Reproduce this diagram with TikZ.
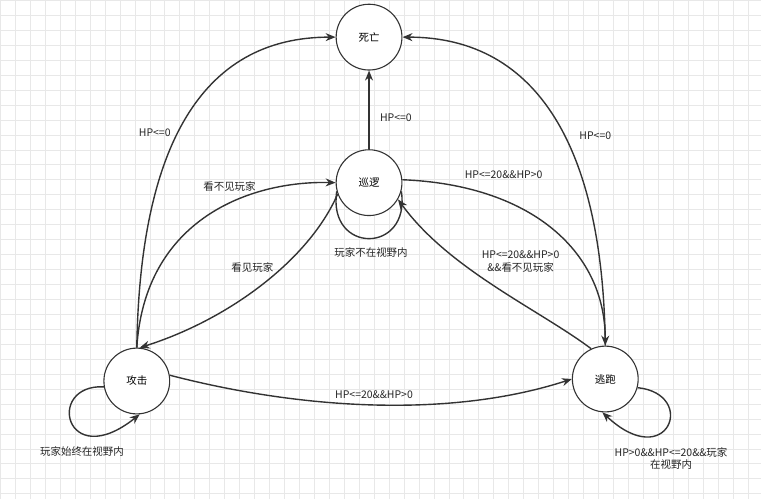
\documentclass[tikz,border=0pt]{standalone}
\usepackage{fontspec}
\setmainfont{Noto Sans CJK SC}
\usetikzlibrary{arrows.meta}
\begin{document}
\begin{tikzpicture}[x=1pt,y=-1pt,
  st/.style={circle,draw=black!80,line width=1.1pt,fill=white,minimum size=66pt,inner sep=0pt,font=\fontsize{10.5}{12}\selectfont},
  tr/.style={draw=black!80,line width=1.4pt,-{Stealth[length=10pt,width=8pt]}},
  lb/.style={font=\fontsize{10.5}{12.5}\selectfont,text=black!85,align=center}]
\fill[white] (0,0) rectangle (763,500);
\foreach \i in {0,15,...,765} \draw[black!9,line width=0.5pt] (\i,0) -- (\i,500);
\foreach \j in {0,15,...,500} \draw[black!9,line width=0.5pt] (0,\j) -- (763,\j);
\useasboundingbox (0,0) rectangle (763,500);
\node[st] (d) at (370,37) {死亡};
\node[st] (p) at (370,183) {巡逻};
\node[st] (a) at (137,382) {攻击};
\node[st] (e) at (607,380) {逃跑};
% to death
\draw[tr] (a.90) .. controls (140,150) and (200,37) .. (d.180);
\node[lb] at (155,133) {HP<=0};
\draw[tr] (p.90) -- (d.270);
\node[lb] at (397,118) {HP<=0};
\draw[tr] (e.90) .. controls (605,150) and (540,37) .. (d.0);
\node[lb] at (597,136) {HP<=0};
% attack <-> patrol
\draw[tr] (a.90) .. controls (145,220) and (250,181) .. (p.180);
\node[lb] at (230,187) {看不见玩家};
\draw[tr] (p.200) .. controls (310,260) and (230,320) .. (a.85);
\node[lb] at (253,268) {看见玩家};
% patrol self loop
\draw[draw=black!80,line width=1.4pt] (p.195) .. controls (328,255) and (412,255) .. (p.345);
\node[lb] at (372,253) {玩家不在视野内};
% patrol <-> flee
\draw[tr] (p.5) .. controls (530,185) and (607,250) .. (e.90);
\node[lb] at (505,175) {HP<=20\&\&HP>0};
\draw[tr] (e.115) .. controls (540,310) and (450,270) .. (p.330);
\node[lb] at (522,262) {HP<=20\&\&HP>0\\\&\&看不见玩家};
% attack -> flee
\draw[tr] (a.10) .. controls (300,410) and (450,420) .. (e.180);
\node[lb] at (375,396) {HP<=20\&\&HP>0};
% self loops
\draw[tr] (a.190) .. controls (45,385) and (65,475) .. (a.275);
\node[lb] at (82,453) {玩家始终在视野内};
\draw[tr] (e.345) .. controls (700,395) and (670,475) .. (e.265);
\node[lb] at (673,460) {HP>0\&\&HP<=20\&\&玩家\\在视野内};
\end{tikzpicture}
\end{document}
